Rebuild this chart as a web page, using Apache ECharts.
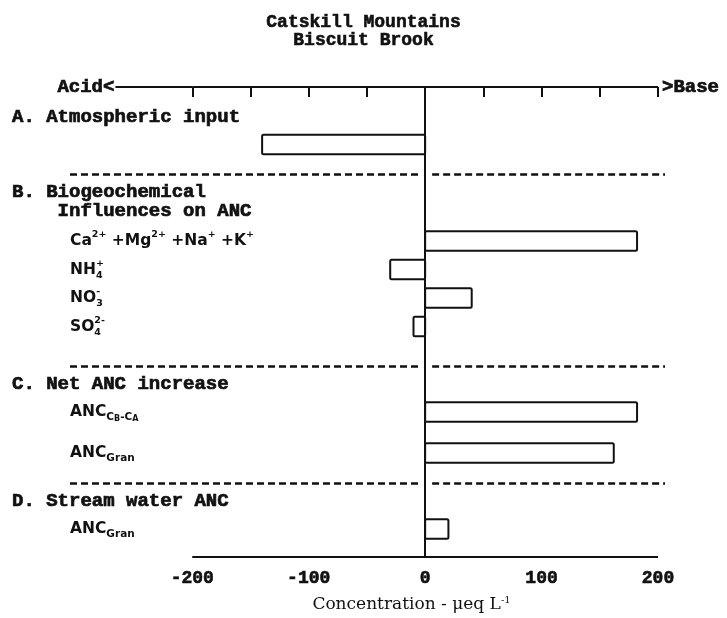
<!DOCTYPE html>
<html>
<head>
<meta charset="utf-8">
<title>Catskill Mountains - Biscuit Brook</title>
<script src="https://cdn.jsdelivr.net/npm/echarts@6/dist/echarts.min.js"></script>
<style>
  html, body { margin: 0; padding: 0; background: #fff; }
  #chart { width: 727px; height: 618px; }
</style>
</head>
<body>
<div id="chart"></div>
<script>
// === Data ===
// concentration change in ueq/L (negative = acid side)
const barValues = [-140, 182, -30, 40, -10, 182, 162, 20];
// row of each bar on the inverted y scale (0 = top axis, 47 = bottom axis)
const barRows = [5.75, 15.4, 18.25, 21.1, 23.95, 32.5, 36.6, 44.2];
// row labels (^{..} superscript, _{..} subscript, _!{..} subscript stacked under
// the next superscript, __{..} second-level subscript)
const barLabels = [
  '',
  'Ca^{2+} +Mg^{2+} +Na^{+} +K^{+}',
  'NH_!{4}^{+}',
  'NO_!{3}^{-}',
  'SO_!{4}^{2-}',
  'ANC_{C}__{B}_{-C}__{A}',
  'ANC_{Gran}',
  'ANC_{Gran}'
];
const headerRows = [3, 11.45, 29.7, 41.4];
const headerTexts = [
  'A. Atmospheric input',
  'B. Biogeochemical\n    Influences on ANC',
  'C. Net ANC increase',
  'D. Stream water ANC'
];
const sepRows = [8.7, 27.9, 39.6];
const tickValues = [-200, -150, -100, -50, 0, 50, 100, 150, 200];
const tickLabels = [-200, -100, 0, 100, 200];

const mono = '"Liberation Mono", "DejaVu Sans Mono", monospace';
const sans = '"DejaVu Sans", "Liberation Sans", sans-serif';
const serif = '"DejaVu Serif", "Liberation Serif", serif';
const ink = '#111';

const xMin = -305, xMax = 206;
const barThickness = 1.95;

// turn the ^{}/_{} markup into rich text tokens
function toRich(s) {
  const re = /(\^|__|_!|_)\{([^}]*)\}/g;
  const tag = { '^': 'p', '_': 'b', '_!': 'bz', '__': 'bb' };
  let out = '', last = 0, m;
  while ((m = re.exec(s))) {
    if (m.index > last) out += '{' + (last === 0 ? 'i0' : 'i') + '|' + s.slice(last, m.index) + '}';
    out += '{' + tag[m[1]] + '|' + m[2] + '}';
    last = re.lastIndex;
  }
  if (last < s.length) out += '{' + (last === 0 ? 'i0' : 'i') + '|' + s.slice(last) + '}';
  return out;
}

const labelRows = headerRows.concat(barRows.slice(1));
const labelTexts = headerTexts
  .map(t => t.split('\n').map(l => '{h|' + l + '}').join('\n'))
  .concat(barLabels.slice(1).map(toRich));

const chart = echarts.init(document.getElementById('chart'));

// separator lines, broken around the zero line
const sepLines = [];
sepRows.forEach(r => {
  sepLines.push([{ coord: [xMin, r] }, { coord: [-6, r] }]);
  sepLines.push([{ coord: [6, r] }, { coord: [xMax, r] }]);
});

// heavy typewriter look
const labelFont = {
  fontFamily: mono, fontWeight: 'bold', fontSize: 19, color: ink,
  textBorderColor: ink, textBorderWidth: 0.7
};
const itemFont = { fontFamily: sans, fontWeight: 'bold', color: ink };

const option = {
  backgroundColor: '#fff',
  animation: false,
  title: [
    { text: 'Catskill Mountains', left: 'center', top: 8,
      textStyle: { fontFamily: mono, fontWeight: 'bold', fontSize: 18, color: ink, textBorderColor: ink, textBorderWidth: 0.6 } },
    { text: 'Biscuit Brook', left: 'center', top: 26,
      textStyle: { fontFamily: mono, fontWeight: 'bold', fontSize: 18, color: ink, textBorderColor: ink, textBorderWidth: 0.6 } }
  ],
  grid: { left: 70, right: 62, top: 87, bottom: 61, containLabel: false, outerBoundsMode: 'none' },
  xAxis: [
    {
      type: 'value', position: 'bottom', min: xMin, max: xMax,
      axisLine: { show: false },
      splitLine: { show: false },
      axisTick: { show: true, length: 8, customValues: tickValues, lineStyle: { color: ink, width: 2 } },
      axisLabel: Object.assign({ customValues: tickLabels, margin: 12 }, labelFont, { fontSize: 18, textBorderWidth: 0.6 }),
      name: '{t|Concentration - \u03bceq L}{s|-1}',
      nameLocation: 'middle', nameGap: 38,
      // wide serif, shifted right to sit under the zero line
      nameTextStyle: {
        padding: [0, 0, 0, 88],
        rich: {
          t: { fontFamily: serif, fontSize: 17, color: ink, lineHeight: 20 },
          s: { fontFamily: serif, fontSize: 10, color: ink, lineHeight: 10, verticalAlign: 'top' }
        }
      }
    },
    {
      type: 'value', position: 'top', min: xMin, max: xMax,
      axisLine: { show: false },
      splitLine: { show: false },
      axisTick: { show: true, inside: true, length: 10, customValues: tickValues, lineStyle: { color: ink, width: 2 } },
      axisLabel: { show: false }
    }
  ],
  yAxis: {
    type: 'value', inverse: true, min: 0, max: 47,
    axisLine: { show: false },
    axisTick: { show: false },
    splitLine: { show: false },
    axisLabel: {
      customValues: labelRows,
      align: 'left',
      margin: 58,
      color: ink,
      formatter: (value) => {
        const idx = labelRows.findIndex(r => Math.abs(r - value) < 1e-6);
        return idx < 0 ? '' : labelTexts[idx];
      },
      rich: {
        h: Object.assign({ lineHeight: 19 }, labelFont),
        i0: Object.assign({ fontSize: 15.5, lineHeight: 22, padding: [0, 0, 0, 58] }, itemFont),
        i: Object.assign({ fontSize: 15.5, lineHeight: 22 }, itemFont),
        p: Object.assign({ fontSize: 9.5, lineHeight: 12, verticalAlign: 'top' }, itemFont),
        b: Object.assign({ fontSize: 10.5, lineHeight: 10, verticalAlign: 'bottom' }, itemFont),
        bz: Object.assign({ fontSize: 9.5, lineHeight: 11, verticalAlign: 'bottom', width: 0.01 }, itemFont),
        bb: Object.assign({ fontSize: 8, lineHeight: 5, verticalAlign: 'bottom' }, itemFont)
      }
    }
  },
  series: [
    {
      type: 'custom',
      coordinateSystem: 'cartesian2d',
      xAxisIndex: 0,
      yAxisIndex: 0,
      encode: { x: 0, y: 1 },
      data: barValues.map((v, i) => [v, barRows[i]]),
      renderItem: (params, api) => {
        const v = api.value(0), r = api.value(1);
        const p0 = api.coord([0, r]);
        const p1 = api.coord([v, r]);
        const h = api.size([0, barThickness])[1];
        return {
          type: 'rect',
          shape: { x: Math.min(p0[0], p1[0]), y: p0[1] - h / 2, width: Math.abs(p1[0] - p0[0]), height: h, r: 1.5 },
          style: { fill: '#fff', stroke: ink, lineWidth: 2 }
        };
      },
      markLine: {
        silent: true,
        symbol: ['none', 'none'],
        label: { show: false },
        lineStyle: { color: ink, type: 'solid', width: 2 },
        data: [
          { xAxis: 0 },
          [
            { coord: [-266, 0], label: Object.assign({ show: true, position: 'start', distance: 1, formatter: 'Acid<' }, labelFont) },
            { coord: [-200, 0] }
          ],
          [
            { coord: [-200, 0], label: Object.assign({ show: true, position: 'end', distance: 4, formatter: '>Base' }, labelFont) },
            { coord: [200, 0] }
          ],
          [{ coord: [-200, 47] }, { coord: [200, 47] }]
        ].concat(sepLines.map(seg => [
          Object.assign({ lineStyle: { color: ink, type: [7, 4], width: 2.6 } }, seg[0]),
          seg[1]
        ]))
      }
    }
  ]
};

chart.setOption(option);
window.addEventListener('resize', () => chart.resize());
</script>
</body>
</html>
